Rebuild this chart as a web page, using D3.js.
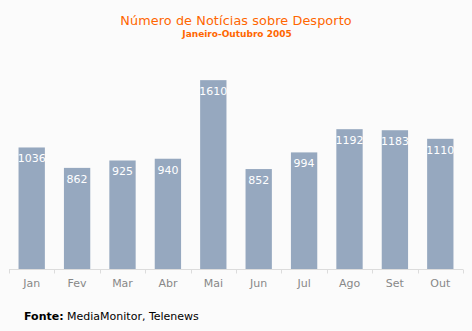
<!DOCTYPE html>
<html><head><meta charset="utf-8">
<script src="https://cdn.jsdelivr.net/npm/d3@7/dist/d3.min.js"></script>
<style>body{margin:0;background:#fbfbfb;}svg{display:block;}</style>
</head><body>
<script>
const months = ["Jan","Fev","Mar","Abr","Mai","Jun","Jul","Ago","Set","Out"];
const values = [1036,862,925,940,1610,852,994,1192,1183,1110];
const title = "Número de Notícias sobre Desporto";
const subtitle = "Janeiro-Outubro 2005";

const W=472,H=331;
const svg=d3.select("body").append("svg").attr("width",W).attr("height",H);
svg.append("rect").attr("width",W).attr("height",H).attr("fill","#fbfbfb");
const font="DejaVu Sans, Verdana, sans-serif";
const x=d3.scaleBand().domain(months).range([9,463]).paddingInner(0.42).paddingOuter(0.21);
const y=d3.scaleLinear().domain([0,2000]).range([269,269-0.1173*2000]);

svg.append("text").attr("x",236).attr("y",25).attr("text-anchor","middle")
 .attr("font-family",font).attr("font-size",12.8).attr("letter-spacing",0.1).attr("fill","#ff6600").text(title);
svg.append("text").attr("x",237).attr("y",37).attr("text-anchor","middle")
 .attr("font-family",font).attr("font-size",9).attr("font-weight","bold").attr("fill","#ff6600").text(subtitle);

svg.selectAll("rect.bar").data(values).join("rect").attr("class","bar")
 .attr("x",(d,i)=>x(months[i])).attr("width",x.bandwidth())
 .attr("y",d=>y(d)).attr("height",d=>y(0)-y(d)).attr("fill","#96a8bf");

svg.selectAll("text.val").data(values).join("text").attr("class","val")
 .attr("x",(d,i)=>x(months[i])+x.bandwidth()/2).attr("y",d=>y(d)+15)
 .attr("text-anchor","middle").attr("font-family",font).attr("font-size",11)
 .attr("fill","#fff").text(d=>d);

const axis=d3.axisBottom(x).tickSize(0).tickPadding(10);
const g=svg.append("g").attr("transform","translate(0,269.5)").call(axis);
g.select(".domain").remove();
g.append("line").attr("x1",9).attr("x2",463).attr("stroke","#dcdcdc");
const edges=d3.range(months.length+1).map(i=>9+i*(454/months.length));
g.selectAll("line.tk").data(edges).join("line").attr("class","tk")
 .attr("x1",d=>Math.round(d)+0.5).attr("x2",d=>Math.round(d)+0.5).attr("y1",0).attr("y2",4).attr("stroke","#dcdcdc");
g.selectAll(".tick text").attr("font-family",font).attr("font-size",11).attr("fill","#888").attr("dy","0.71em");

const f=svg.append("text").attr("x",24).attr("y",320).attr("font-family",font).attr("font-size",11).attr("fill","#000");
f.append("tspan").attr("font-weight","bold").text("Fonte:");
f.append("tspan").text(" MediaMonitor, Telenews");
</script>
</body></html>
